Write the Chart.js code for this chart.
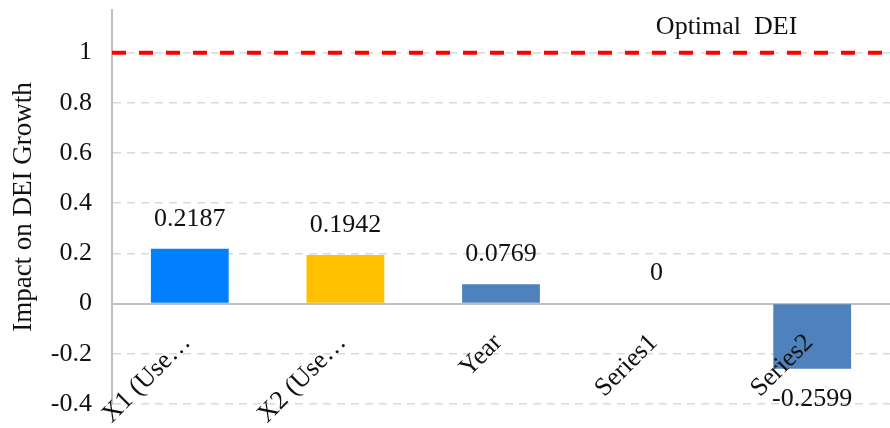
<!DOCTYPE html>
<html>
<head>
<meta charset="utf-8">
<title>Impact on DEI Growth</title>
<script src="https://cdn.jsdelivr.net/npm/chart.js@4/dist/chart.umd.min.js"></script>
<style>
  html, body { margin: 0; padding: 0; background: #fff; }
  #wrap { width: 890px; height: 428px; position: relative; }
</style>
</head>
<body>
<div id="wrap"><canvas id="chart"></canvas></div>
<script>
// Chart data
const categories = ['X1 (Use\u2026', 'X2 (Use\u2026', 'Year', 'Series1', 'Series2'];
const impactValues = [0.2187, 0.1942, 0.0769, 0, -0.2599];
const barColors = ['#0080FF', '#FFC000', '#4F81BD', '#4F81BD', '#4F81BD'];
const yTicks = [-0.4, -0.2, 0, 0.2, 0.4, 0.6, 0.8, 1];
const optimalValue = 1;
const optimalLabel = 'Optimal  DEI';

const FONT = "'Liberation Serif', 'Times New Roman', serif";
const TEXT = '#111';
Chart.defaults.font.family = FONT;

/**
 * Draws the value above (or below, for negatives) each bar, plus the
 * dashed "Optimal DEI" reference line at optimalValue.
 */
const overlayPlugin = {
  id: 'overlay',
  beforeDatasetsDraw(chart) {
    const { ctx, chartArea, scales } = chart;
    const y = scales.y.getPixelForValue(optimalValue);
    ctx.save();
    ctx.strokeStyle = '#FF0000';
    ctx.lineWidth = 4;
    ctx.setLineDash([14, 13]);
    ctx.beginPath();
    ctx.moveTo(chartArea.left, y);
    ctx.lineTo(chartArea.right, y);
    ctx.stroke();
    ctx.setLineDash([]);
    ctx.fillStyle = TEXT;
    ctx.font = '26px ' + FONT;
    ctx.textAlign = 'center';
    ctx.textBaseline = 'middle';
    ctx.fillText(optimalLabel, chartArea.left + (chartArea.right - chartArea.left) * 0.79, y - 25);
    ctx.restore();
  },
  afterDatasetsDraw(chart) {
    const { ctx } = chart;
    const meta = chart.getDatasetMeta(0);
    ctx.save();
    ctx.fillStyle = TEXT;
    ctx.font = '26px ' + FONT;
    ctx.textAlign = 'center';
    ctx.textBaseline = 'middle';
    meta.data.forEach((bar, i) => {
      const v = impactValues[i];
      const y = v >= 0 ? bar.y - 30 : bar.y + 30;
      ctx.fillText(String(v), bar.x, y);
    });
    ctx.restore();
  }
};

const chart = new Chart(document.getElementById('chart'), {
  type: 'bar',
  data: {
    labels: categories,
    datasets: [{
      data: impactValues,
      backgroundColor: barColors,
      borderWidth: 0,
      barPercentage: 0.5,
      categoryPercentage: 1
    }]
  },
  options: {
    responsive: true,
    maintainAspectRatio: false,
    animation: false,
    layout: { padding: { top: 10, bottom: 24, left: 0, right: 0 } },
    plugins: {
      legend: { display: false },
      tooltip: { enabled: false }
    },
    scales: {
      x: {
        position: { y: 0 },
        afterFit: scale => { scale.paddingLeft = 0; scale.paddingRight = 0; },
        grid: { display: false, drawTicks: false },
        border: { color: '#BFBFBF', width: 2 },
        ticks: {
          z: 1,
          font: { family: FONT, size: 26 },
          color: TEXT,
          minRotation: 45,
          maxRotation: 45,
          autoSkip: false,
          padding: 24,
          labelOffset: -3
        }
      },
      y: {
        min: -0.4,
        max: 1.17,
        afterBuildTicks: scale => { scale.ticks = yTicks.map(v => ({ value: v })); },
        afterFit: scale => {
          scale.width = 112;
          scale.paddingTop = 0;
          scale.paddingBottom = 0;
        },
        grid: { color: '#D9D9D9', lineWidth: 1.5, drawTicks: false },
        border: { color: '#BFBFBF', width: 2, dash: [8, 6] },
        ticks: {
          font: { family: FONT, size: 26 },
          color: TEXT,
          padding: 20,
          callback: v => String(v)
        },
        title: {
          display: true,
          text: 'Impact on DEI Growth',
          font: { family: FONT, size: 27 },
          color: TEXT,
          padding: { top: 8, bottom: 0 }
        }
      }
    }
  },
  plugins: [overlayPlugin]
});
</script>
</body>
</html>
